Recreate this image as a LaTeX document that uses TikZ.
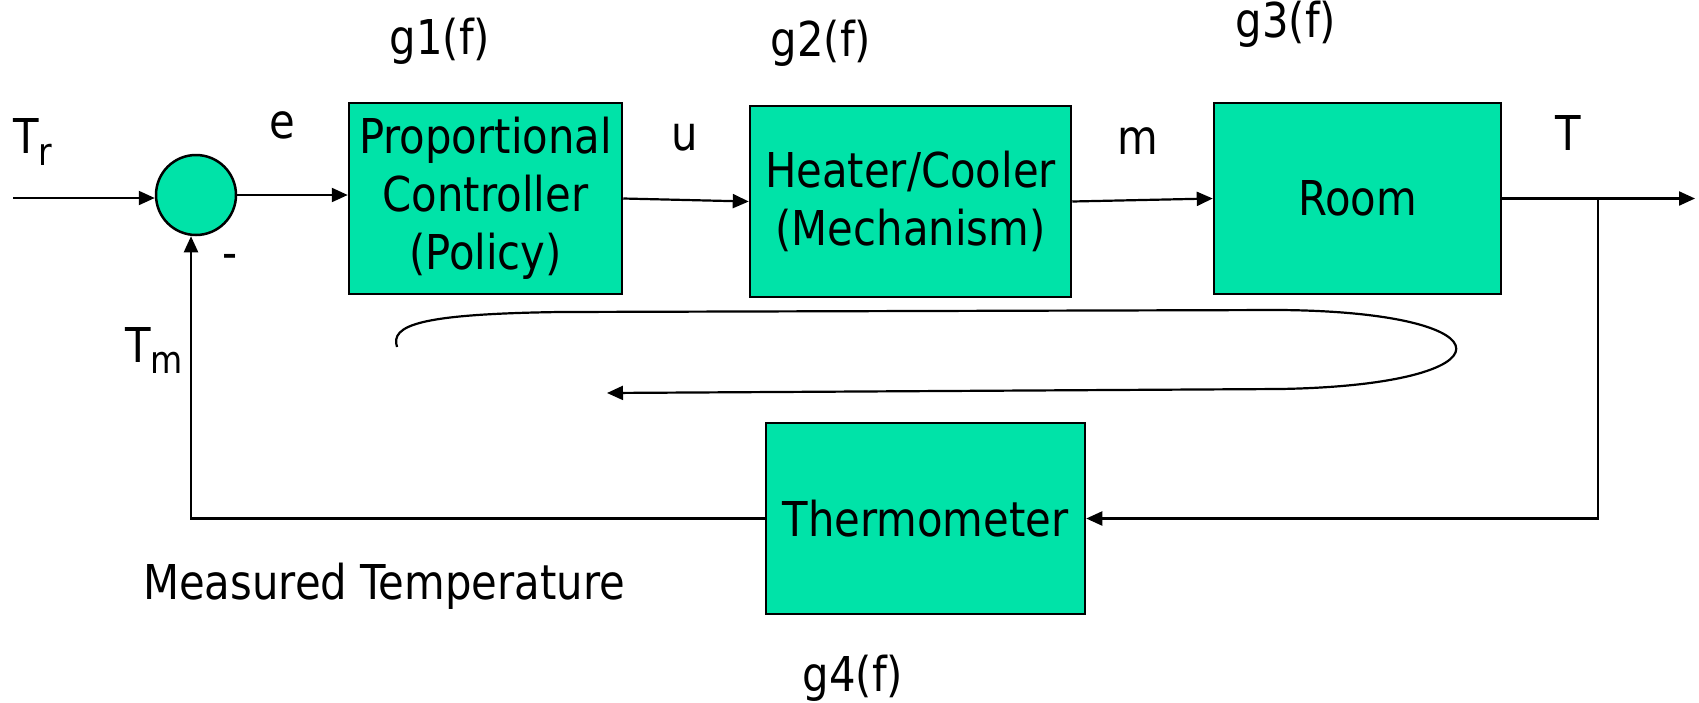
\documentclass[tikz,border=0pt]{standalone}
\usepackage{fontspec}
\setmainfont{DejaVu Sans}[FakeStretch=0.87]
\usetikzlibrary{arrows.meta}
\definecolor{boxgreen}{HTML}{00E3A8}
\begin{document}
\begin{tikzpicture}[x=1pt,y=-1pt,
  font=\fontsize{48}{58}\selectfont,
  blk/.style={draw, line width=2.5pt, fill=boxgreen, minimum width=#1, minimum height=191pt, inner sep=0pt, align=center},
  conn/.style={line width=2.2pt, -{Triangle[length=16pt,width=14pt]}},
  lbl/.style={anchor=base, inner sep=0pt}
]
\useasboundingbox (0,0) rectangle (1699,702);

% blocks
\node[circle, draw, line width=2.5pt, fill=boxgreen, minimum size=80pt, inner sep=0pt] (sum) at (196,195) {};
\node[blk=273pt] (b1) at (485.5,198.5) {Proportional\\Controller\\(Policy)};
\node[blk=321pt] (b2) at (910.5,201.5) {Heater/Cooler\\(Mechanism)};
\node[blk=287pt] (b3) at (1357.5,198.5) {Room};
\node[blk=319pt] (b4) at (925.5,518.5) {Thermometer};

% coordinates
\coordinate (in) at (13,198);
\coordinate (out) at (1695,198.5);
\coordinate (br) at (1598,198.5);
\coordinate (brd) at (1598,518.5);
\coordinate (fb) at (191,518.5);

% connectors
\draw[conn] (in) -- (in -| sum.west);
\draw[conn] (sum.east) -- (sum.east -| b1.west);
\draw[conn] (b1.east) -- (b2.west);
\draw[conn] (b2.east) -- (b3.west);
\draw[conn] (b3.east) -- (out);
\draw[conn] (br) -- (brd) -- (b4.east);
\draw[conn] (b4.west) -- (fb) -- (fb |- sum.south);

% loop arrow
\coordinate (c0) at (397,347);
\coordinate (c1) at (560,312);
\coordinate (c2) at (1280,310);
\coordinate (c3) at (1280,389);
\coordinate (c4) at (607,393);
\draw[conn] (c0) .. controls (390,325) and (420,314) .. (c1)
  -- (c2) .. controls (1515,312) and (1515,385) .. (c3) -- (c4);

% labels
\node[lbl] (g1) at (440,54) {g1(f)};
\node[lbl] (g2) at (821,56) {g2(f)};
\node[lbl] (g3) at (1286,37) {g3(f)};
\node[lbl] (g4) at (853,691) {g4(f)};
\node[lbl] (le) at (282,138) {e};
\node[lbl] (lu) at (685,150) {u};
\node[lbl] (lm) at (1138,154) {m};
\node[lbl] (lT) at (1568,150) {T};
\node[anchor=base west, inner sep=0pt] (lTr) at (13,153) {T\raisebox{-12pt}{\fontsize{38}{38}\selectfont r}};
\node[anchor=base west, inner sep=0pt] (lTm) at (125,362) {T\raisebox{-11pt}{\fontsize{38}{38}\selectfont m}};
\node[inner sep=0pt] (lminus) at (230,262) {-};
\node[anchor=base west, inner sep=0pt] (lmt) at (143,599) {Measured Temperature};
\end{tikzpicture}
\end{document}
